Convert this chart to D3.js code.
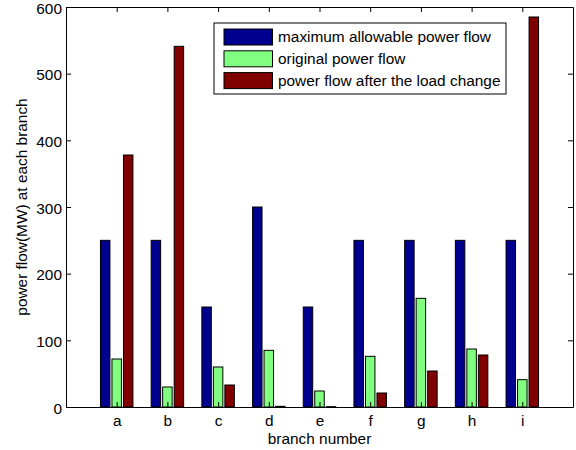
<!DOCTYPE html>
<html>
<head>
<meta charset="utf-8">
<script src="https://cdn.jsdelivr.net/npm/d3@7"></script>
<style>
  body { margin: 0; background: #fff; }
  text { font-family: "Liberation Sans", Arial, sans-serif; font-size: 15.4px; fill: #000; }
</style>
</head>
<body>
<div id="chart"></div>
<script>
const branches = ['a', 'b', 'c', 'd', 'e', 'f', 'g', 'h', 'i'];
const maxFlow = [250, 250, 150, 300, 150, 250, 250, 250, 250];
const origFlow = [72, 30, 60, 85, 24, 76, 163, 87, 41];
const afterFlow = [378, 541, 33, 1, 0.5, 21, 54, 78, 585];
const seriesNames = ['maximum allowable power flow', 'original power flow', 'power flow after the load change'];
const seriesColors = ['#00008f', '#80ff80', '#800000'];
const yTicks = [0, 100, 200, 300, 400, 500, 600];

const W = 576, H = 450;
const margin = { top: 7, right: 3, bottom: 43, left: 66 };
const width = W - margin.left - margin.right;
const height = H - margin.top - margin.bottom;

const svg = d3.select("#chart").append("svg")
    .attr("width", W)
    .attr("height", H);

const g = svg.append("g")
    .attr("transform", `translate(${margin.left},${margin.top})`);

// numeric x like matlab: categories at 1..9, xlim [0,10]
const x = d3.scaleLinear().domain([0, 10]).range([0, width]);
const y = d3.scaleLinear().domain([0, 600]).range([height, 0]);

const series = [maxFlow, origFlow, afterFlow];
const offset = 0.227, barW = 0.187;

series.forEach((vals, s) => {
    g.selectAll(".bar" + s)
        .data(vals)
        .enter().append("rect")
        .attr("x", (d, i) => x(i + 1 + (s - 1) * offset - barW / 2))
        .attr("width", x(barW) - x(0))
        .attr("y", d => y(d))
        .attr("height", d => y(0) - y(d))
        .attr("fill", seriesColors[s])
        .attr("stroke", "#000")
        .attr("stroke-width", 1);
});

// axes box
const tickLen = 5;
const xAxis = g.append("g").attr("transform", `translate(0,${height})`)
    .call(d3.axisBottom(x).tickValues(d3.range(1, 10))
        .tickFormat(d => branches[d - 1]).tickSizeInner(-tickLen).tickSizeOuter(0).tickPadding(8));
const xTop = g.append("g")
    .call(d3.axisTop(x).tickValues(d3.range(1, 10)).tickFormat("").tickSizeInner(-tickLen).tickSizeOuter(0));
const yAxis = g.append("g")
    .call(d3.axisLeft(y).tickValues(yTicks).tickSizeInner(-tickLen).tickSizeOuter(0).tickPadding(4));
const yRight = g.append("g").attr("transform", `translate(${width},0)`)
    .call(d3.axisRight(y).tickValues(yTicks).tickFormat("").tickSizeInner(-tickLen).tickSizeOuter(0));

[xAxis, xTop, yAxis, yRight].forEach(a => {
    a.selectAll("path, line").attr("stroke", "#000").attr("stroke-width", 1);
    a.selectAll("text").style("font-size", "15.4px").attr("font-family", null);
});
yAxis.selectAll("text").attr("dy", "0.4em");

// x/y labels
g.append("text")
    .attr("text-anchor", "middle")
    .attr("x", width / 2)
    .attr("y", height + 37)
    .text("branch number");

g.append("text")
    .attr("text-anchor", "middle")
    .attr("transform", "rotate(-90)")
    .attr("x", -height / 2)
    .attr("y", -39)
    .text("power flow(MW) at each branch");

// legend
const legend = g.append("g").attr("transform", `translate(${214 - margin.left},${23 - margin.top})`);
legend.append("rect")
    .attr("width", 292).attr("height", 71)
    .attr("fill", "#fff").attr("stroke", "#000");

seriesNames.forEach((name, i) => {
    const row = legend.append("g").attr("transform", `translate(0,${6 + i * 21.8})`);
    row.append("rect")
        .attr("x", 10).attr("y", 0)
        .attr("width", 48.5).attr("height", 16)
        .attr("fill", seriesColors[i]).attr("stroke", "#000");
    row.append("text")
        .attr("x", 64).attr("y", 13)
        .text(name);
});
</script>
</body>
</html>
